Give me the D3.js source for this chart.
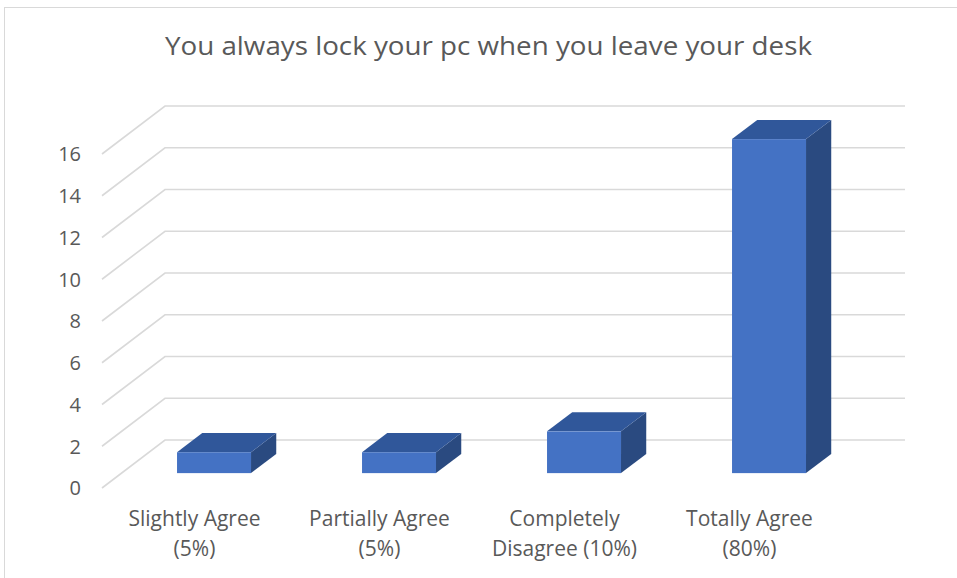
<!DOCTYPE html>
<html><head><meta charset="utf-8">
<script src="https://cdn.jsdelivr.net/npm/d3@7"></script>
<style>html,body{margin:0;padding:0;background:#fff;overflow:hidden}text{font-family:"Open Sans",sans-serif;fill:#595959}</style>
</head><body>
<svg id="c" width="957" height="578"></svg>
<script>
const title = "You always lock your pc when you leave your desk";
const categories = ["Slightly Agree (5%)", "Partially Agree (5%)", "Completely Disagree (10%)", "Totally Agree (80%)"];
const categoryLines = [["Slightly Agree", "(5%)"], ["Partially Agree", "(5%)"], ["Completely", "Disagree (10%)"], ["Totally Agree", "(80%)"]];
const values = [1, 1, 2, 16];
const tickValues = [0, 2, 4, 6, 8, 10, 12, 14, 16];

const svg = d3.select("#c");
// chart border
svg.append("rect").attr("x", 4.5).attr("y", 7.5).attr("width", 1000).attr("height", 700)
  .attr("fill", "#fff").attr("stroke", "#d9d9d9").attr("stroke-width", 1);

const floorL = 102, floorR = 842;
const depth = [63, -48];
const t0 = 0.31, t1 = 0.71;
const x = d3.scaleBand().domain(categories).range([floorL, floorR]).paddingInner(0.6).paddingOuter(0.3);
const xc = d3.scaleBand().domain(categories).range([floorL, floorR]);
const y = d3.scaleLinear().domain([0, 16]).range([488, 154]);
const gridRight = 905;

// gridlines (side wall diagonal + back wall)
const grid = svg.append("g");
tickValues.forEach(v => {
  const y0 = y(v);
  grid.append("path")
    .attr("d", `M${floorL},${y0} L${floorL + depth[0]},${y0 + depth[1]} L${gridRight},${y0 + depth[1]}`)
    .attr("fill", "none").attr("stroke", "#d9d9d9").attr("stroke-width", 1.6);
});

// y axis labels
const yAxis = d3.axisLeft(y).tickValues(tickValues).tickSize(0).tickPadding(21);
const ga = svg.append("g").attr("transform", `translate(${floorL},0)`).call(yAxis);
ga.select(".domain").remove();
ga.selectAll("text").attr("font-size", 20).attr("font-family", "Open Sans").attr("fill", "#595959").attr("dy", "0.34em");

// bars
const bars = svg.append("g");
categories.forEach((c, i) => {
  const v = values[i];
  const fx0 = x(c) + depth[0] * t0, fx1 = fx0 + x.bandwidth();
  const base = y(0) + depth[1] * t0, top = y(v) + depth[1] * t0;
  const dx = depth[0] * (t1 - t0), dy = depth[1] * (t1 - t0);
  bars.append("path").attr("d", `M${fx1},${base} L${fx1 + dx},${base + dy} L${fx1 + dx},${top + dy} L${fx1},${top} Z`)
    .attr("fill", "#2a4a80");
  bars.append("path").attr("d", `M${fx0},${top} L${fx0 + dx},${top + dy} L${fx1 + dx},${top + dy} L${fx1},${top} Z`)
    .attr("fill", "#30579a");
  bars.append("rect").attr("x", fx0).attr("y", top).attr("width", fx1 - fx0).attr("height", base - top)
    .attr("fill", "#4472c4");
});

// category labels
const labels = svg.append("g");
categories.forEach((c, i) => {
  const cx = xc(c) + xc.bandwidth() / 2;
  categoryLines[i].forEach((ln, j) => {
    labels.append("text").attr("x", cx).attr("y", 526 + j * 30).attr("text-anchor", "middle")
      .attr("font-size", 21).text(ln);
  });
});

// title
svg.append("text").attr("x", 488.5).attr("y", 54.5).attr("text-anchor", "middle")
  .attr("font-size", 25).attr("textLength", 647).attr("lengthAdjust", "spacingAndGlyphs").text(title);
</script>
</body></html>
